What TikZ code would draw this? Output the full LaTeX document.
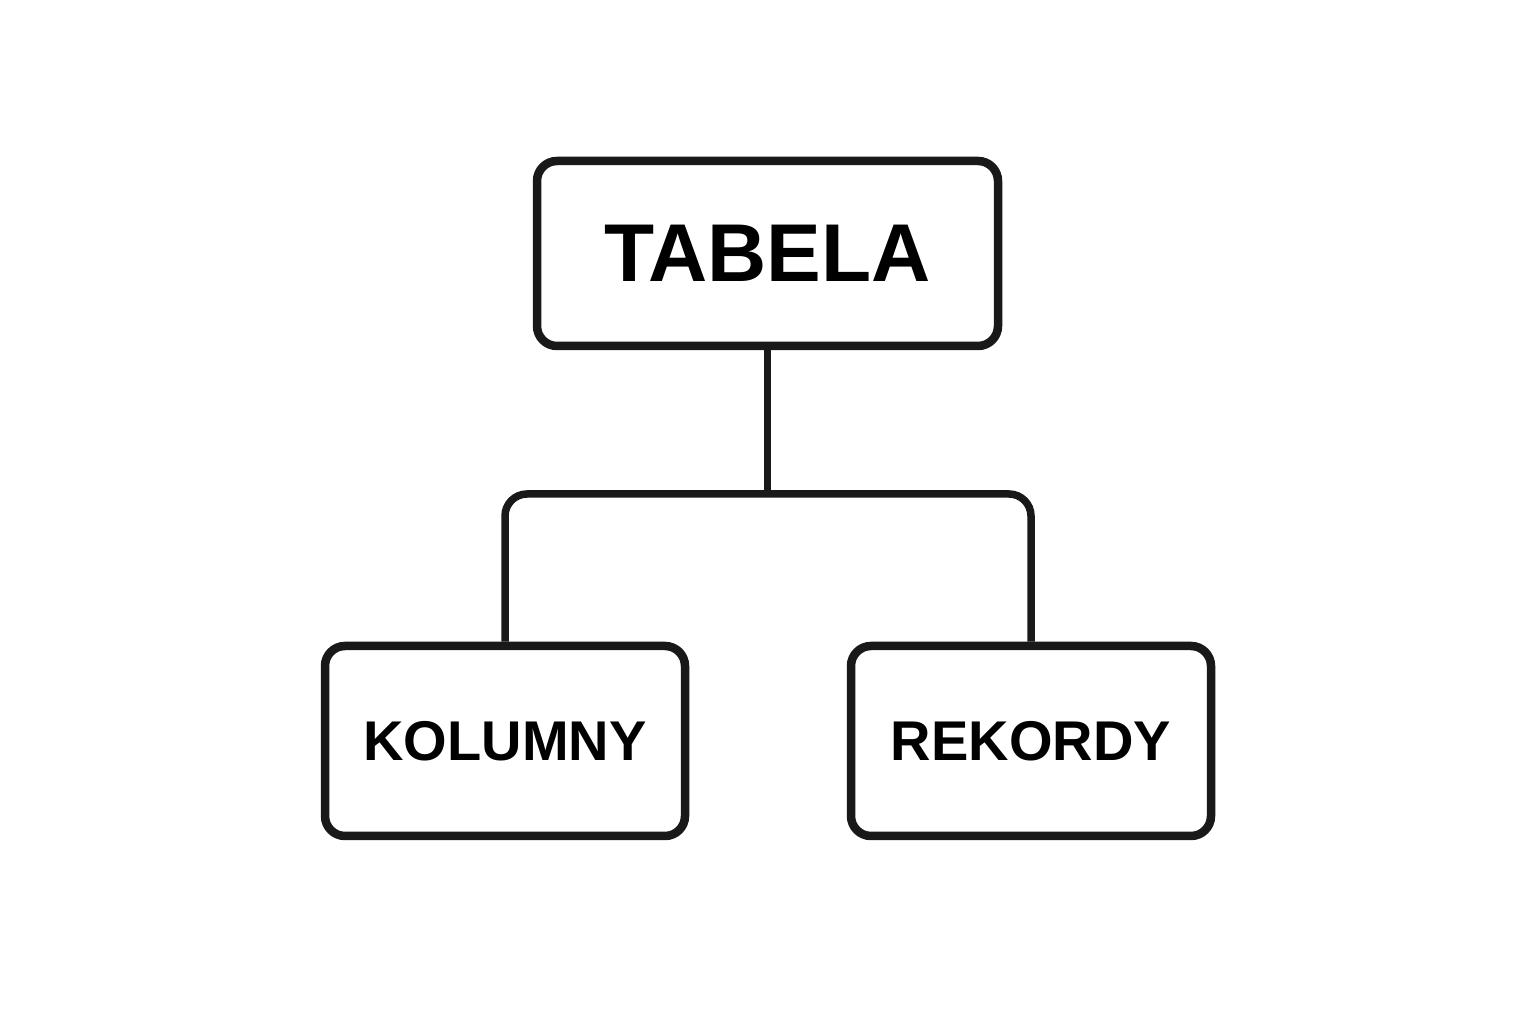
\documentclass[tikz,border=0pt]{standalone}
\usepackage{fontspec}
\setmainfont{Liberation Sans}
\usepackage{tikz}
\usetikzlibrary{positioning}
\definecolor{ink}{rgb}{0.1,0.1,0.1}

\begin{document}
\begin{tikzpicture}[x=1pt,y=1pt,
	box/.style={draw=ink,line width=8.5pt,rounded corners=20pt,fill=white,inner sep=0pt},
	link/.style={draw=ink,line width=7.5pt,rounded corners=22pt}]
			\useasboundingbox[fill=white] (0,0) rectangle (1536,1024);
			\node[box,minimum width=461pt,minimum height=185pt,font=\bfseries\fontsize{82}{100}\selectfont] (tabela) at (767.5,770.5) {TABELA};
			\node[box,minimum width=360pt,minimum height=190pt,font=\bfseries\fontsize{56}{68}\selectfont] (kolumny) at (505,283) {KOLUMNY};
			\node[box,minimum width=360pt,minimum height=190pt,font=\bfseries\fontsize{56}{68}\selectfont] (rekordy) at (1031,283) {REKORDY};
			\coordinate (split) at (767.5,530);
			\draw [link] (tabela.south)-- (split);
			\draw [link] (kolumny.north) |- (split) -| (rekordy.north);
			\end{tikzpicture}
\end{document}
